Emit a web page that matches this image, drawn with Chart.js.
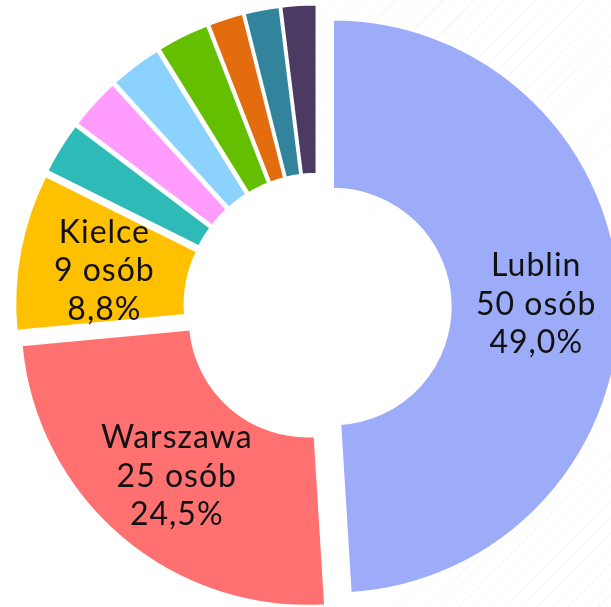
<!DOCTYPE html>
<html lang="pl">
<head>
<meta charset="utf-8">
<script src="https://cdn.jsdelivr.net/npm/chart.js@4.4.1/dist/chart.umd.min.js"></script>
<style>
  html, body { margin: 0; padding: 0; background: #fff; }
  #wrap { width: 611px; height: 607px; position: relative; overflow: hidden; }
  /* delikatne ukośne smugi w tle po prawej stronie */
  #wrap::before {
    content: ''; position: absolute; inset: 0;
    background: repeating-linear-gradient(135deg, rgba(0,0,0,0) 0 5px, rgba(0,0,0,0.035) 5px 6px, rgba(0,0,0,0) 6px 11px);
    -webkit-mask-image: radial-gradient(ellipse 260px 200px at 470px 60px, #000 20%, transparent 100%),
                        radial-gradient(ellipse 260px 200px at 560px 560px, #000 20%, transparent 100%);
    mask-image: radial-gradient(ellipse 260px 200px at 470px 60px, #000 20%, transparent 100%),
                radial-gradient(ellipse 260px 200px at 560px 560px, #000 20%, transparent 100%);
  }
  canvas { position: relative; }
</style>
</head>
<body>
<div id="wrap"><canvas id="pie" width="611" height="607"></canvas></div>
<script>
// dane: miasta i liczba osób (wycinki zgodnie z ruchem wskazówek zegara od godz. 12)
const CITIES = ['Lublin', 'Warszawa', 'Kielce', 'Inne 1', 'Inne 2', 'Inne 3', 'Inne 4', 'Inne 5', 'Inne 6', 'Inne 7'];
const PEOPLE = [50, 25, 9, 3, 3, 3, 3, 2, 2, 2];
const COLORS = ['#9dacf9', '#ff7171', '#ffc000', '#2ebbb8', '#ff9cfd', '#8bd2fe', '#63bf00', '#e36c0e', '#31849b', '#4b3a62'];
const LABELED = ['Lublin', 'Warszawa', 'Kielce'];

const TOTAL = PEOPLE.reduce((a, b) => a + b, 0);
const EXPLODE = 15.5; // odsunięcie wycinków od środka

// odsuwa każdy wycinek wzdłuż jego dwusiecznej
const explodePlugin = {
  id: 'explode',
  afterDatasetUpdate(chart, args) {
    chart.getDatasetMeta(args.index).data.forEach(arc => {
      const mid = (arc.startAngle + arc.endAngle) / 2;
      arc.x += Math.cos(mid) * EXPLODE;
      arc.y += Math.sin(mid) * EXPLODE;
    });
  }
};

// podpisy w środku dużych wycinków
const labelPlugin = {
  id: 'sliceLabels',
  afterDatasetsDraw(chart) {
    const { ctx } = chart;
    const meta = chart.getDatasetMeta(0);
    ctx.save();
    ctx.fillStyle = '#111';
    ctx.font = '32px Lato, "Noto Sans", sans-serif';
    ctx.letterSpacing = '1px';
    ctx.textAlign = 'center';
    ctx.textBaseline = 'middle';
    meta.data.forEach((arc, i) => {
      if (!LABELED.includes(CITIES[i])) return;
      const { x, y } = arc.tooltipPosition();
      const pct = (PEOPLE[i] / TOTAL * 100).toFixed(1).replace('.', ',') + '%';
      const lines = [CITIES[i], PEOPLE[i] + ' osób', pct];
      lines.forEach((t, k) => ctx.fillText(t, x + 1, y + 4 + (k - 1) * 38.5));
    });
    ctx.restore();
  }
};

new Chart(document.getElementById('pie'), {
  type: 'doughnut',
  data: {
    labels: CITIES,
    datasets: [{
      data: PEOPLE,
      backgroundColor: COLORS,
      borderColor: '#ffffff',
      borderWidth: 2,
      clip: false
    }]
  },
  options: {
    responsive: false,
    animation: false,
    radius: 287,
    cutout: '41%',
    layout: { padding: { left: 24, top: 7 } },
    plugins: {
      legend: { display: false },
      tooltip: { enabled: false }
    }
  },
  plugins: [explodePlugin, labelPlugin]
});
</script>
</body>
</html>
